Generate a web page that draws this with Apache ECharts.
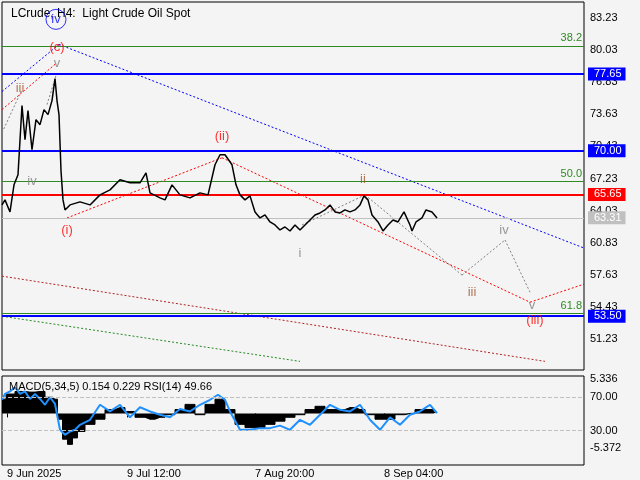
<!DOCTYPE html>
<html><head><meta charset="utf-8">
<script src="https://cdn.jsdelivr.net/npm/echarts@6/dist/echarts.min.js"></script>
<style>body{margin:0;background:#f4f4f4}#c{width:640px;height:480px}</style>
</head><body><div id="c"></div>
<script>
// price path (bar index, price)
var priceX = [0,3,8,12,16,20,23,26,30,34,38,42,46,50,53,55,57,59,61,63,68,78,88,98,108,118,128,138,144,148,158,163,170,178,188,198,206,213,218,223,230,234,238,243,248,253,258,263,268,273,278,283,288,293,298,303,308,313,318,323,328,333,338,343,348,353,358,362,366,370,376,381,386,391,396,402,408,410,414,420,424,430,435];
var priceY = [64.6,65.1,63.9,66.6,67.6,74.5,71.1,74.0,70.1,73.1,72.6,74.1,73.6,75.0,77.2,75.0,73.6,68.0,65.1,64.1,64.6,64.9,64.6,65.6,66.1,67.1,66.8,66.8,67.8,65.8,65.3,65.1,66.6,65.6,65.3,65.8,65.6,68.6,69.6,69.6,68.6,66.6,65.6,65.1,65.5,63.9,63.3,63.6,62.9,62.6,62.1,62.4,62.0,62.6,62.1,62.6,63.1,63.6,63.8,64.1,64.6,63.9,63.8,64.1,63.9,64.1,64.6,65.5,65.1,63.6,62.9,62.0,62.6,63.1,62.9,63.9,62.6,62.0,62.9,63.3,64.1,63.9,63.3];
var macdX = [0,8,18,28,38,48,53,58,63,68,73,78,88,98,108,118,128,138,148,158,168,178,188,198,208,218,228,238,248,258,268,278,288,298,308,318,328,338,348,358,368,378,388,398,408,418,428,435];
var macdV = [2.2,3.0,3.4,3.3,3.4,2.5,2.2,-0.9,-4.0,-4.8,-3.8,-2.8,-1.7,-0.9,0.6,0.9,0.3,-0.6,-0.9,-0.6,-0.2,0.6,1.4,-0.2,1.4,2.2,0.6,-1.7,-2.2,-2.2,-1.7,-1.2,-0.6,-0.2,0.6,1.1,0.6,0.6,0.9,0.6,-0.2,-0.9,-0.9,-0.2,0,0.6,0.6,0.2];
var rsiX = [0,3,8,13,18,23,28,33,38,43,48,53,58,63,68,73,78,88,98,108,118,128,138,148,158,168,178,188,198,208,216,223,228,238,248,258,268,278,288,298,308,318,328,338,348,358,368,378,388,398,408,418,428,435];
var rsiV = [67,74,77,82,74,77,68,74,68,61,70,62,31,25,29,31,37,43,61,53,61,46,58,53,49,46,56,53,61,67,73,67,53,31,31,33,33,36,31,43,37,49,61,55,53,61,43,31,46,37,49,53,61,51];
var dateTicks = [5,125,253,382];
var dateLabels = ['9 Jun 2025','9 Jul 12:00','7 Aug 20:00','8 Sep 04:00'];
var priceTicks = [51.23,54.43,57.63,60.83,64.03,67.23,70.43,73.63,76.83,80.03,83.23];
var levels = [
  {v:77.65,c:'#0000ff',w:2,tag:'77.65'},
  {v:70.00,c:'#0000ff',w:2,tag:'70.00'},
  {v:65.65,c:'#ff0000',w:2,tag:'65.65'},
  {v:63.31,c:'#c0c0c0',w:1,tag:'63.31'},
  {v:53.50,c:'#0000ff',w:2,tag:'53.50'}
];
var fibs = [[80.45,'38.2'],[66.98,'50.0'],[53.75,'61.8']];
// wave/channel lines
var waveLines = [
  [[[0,75.9],[57,80.6]],'#0000ff'],
  [[[57,80.6],[582,60.3]],'#0000ff'],
  [[[0,74.1],[54,78.7]],'#ff0000'],
  [[[65,63.3],[220,69.3]],'#ff0000'],
  [[[220,69.3],[528,54.9]],'#ff0000'],
  [[[528,54.9],[582,56.7]],'#ff0000'],
  [[[0,71.8],[20,76.1]],'#808080'],
  [[[45,74.6],[54,77.5]],'#808080'],
  [[[300,62.6],[363,65.6]],'#808080'],
  [[[363,65.6],[460,57.6]],'#808080'],
  [[[460,57.6],[503,61.1]],'#808080'],
  [[[503,61.1],[528,55.9]],'#808080'],
  [[[0,57.5],[543,49.0]],'#b22222'],
  [[[0,53.5],[298,49.0]],'#228b22']
];
var waveLabels = [
  [55,80.3,'(c)','#ff0000'],[55,78.7,'v','#808080'],
  [18,76.2,'iii','#a0522d'],[30,66.9,'iv','#808080'],[65,62.1,'(i)','#ff0000'],
  [220,71.4,'(ii)','#ff0000'],[361,67.1,'ii','#a0522d'],[298,59.8,'i','#808080'],
  [470,55.9,'iii','#a0522d'],[502,62.1,'iv','#808080'],[530,54.6,'v','#808080'],[533,53.1,'(iii)','#ff0000']
];

var zip = function(a,b){ return a.map(function(x,i){ return [x,b[i]]; }); };
var font = 'Liberation Sans';
var chart = echarts.init(document.getElementById('c'));
var series = [];
series.push({type:'line',xAxisIndex:0,yAxisIndex:0,data:zip(priceX,priceY),symbol:'none',lineStyle:{color:'#000',width:1.5},z:5,
  markLine:{silent:true,symbol:'none',animation:false,data:
    levels.map(function(l){ return {yAxis:l.v,lineStyle:{color:l.c,width:l.w,type:'solid'},
      label:{position:'end',formatter:l.tag,color:'#fff',backgroundColor:l.c,padding:[1,4,1,6],fontSize:11,fontFamily:font,distance:4}}; })
    .concat(fibs.map(function(f){ return {yAxis:f[0],lineStyle:{color:'#2e8b22',width:1,type:'solid'},
      label:{position:'insideEndTop',formatter:f[1],color:'#2e8b22',fontSize:11,fontFamily:font,distance:2}}; }))
  }});
waveLines.forEach(function(w){
  series.push({type:'line',xAxisIndex:0,yAxisIndex:0,data:w[0],symbol:'none',silent:true,
    lineStyle:{color:w[1],width:1,type:[2,2]},z:3});
});
series.push({type:'scatter',xAxisIndex:0,yAxisIndex:0,symbolSize:0,z:6,clip:false,
  data:waveLabels.map(function(d){ return {value:[d[0],d[1]],label:{show:true,position:'inside',formatter:d[2],color:d[3],fontSize:13,fontFamily:font}}; })});
// circled (iv)
series.push({type:'scatter',xAxisIndex:0,yAxisIndex:0,z:6,clip:false,symbol:'circle',symbolSize:20,
  itemStyle:{color:'rgba(0,0,0,0)',borderColor:'#0000ff',borderWidth:1},
  data:[{value:[54,83.1],label:{show:true,position:'inside',formatter:'iv',color:'#0000ff',fontSize:13,fontFamily:font}}]});
series.push({type:'line',xAxisIndex:1,yAxisIndex:1,data:zip(macdX,macdV),symbol:'none',step:'middle',
  lineStyle:{color:'#000',width:1},areaStyle:{color:'#000',opacity:1,origin:0}});
series.push({type:'line',xAxisIndex:1,yAxisIndex:2,data:zip(rsiX,rsiV),symbol:'none',lineStyle:{color:'#1e90ff',width:2},
  markLine:{silent:true,symbol:'none',animation:false,label:{show:false},lineStyle:{color:'#c0c0c0',type:'dashed',width:1},data:[{yAxis:70},{yAxis:30}]}});

chart.setOption({
  backgroundColor:'#f4f4f4',
  animation:false,
  textStyle:{fontFamily:font},
  title:[
    {text:'LCrude, H4:  Light Crude Oil Spot',left:6,top:3,textStyle:{fontSize:12,fontWeight:'normal',color:'#000'}},
    {text:'MACD(5,34,5) 0.154 0.229 RSI(14) 49.66',left:4,top:376,textStyle:{fontSize:11,fontWeight:'normal',color:'#000'}}
  ],
  grid:[
    {left:2,right:56,top:2,height:368,show:true,borderColor:'#000',borderWidth:1},
    {left:2,right:56,top:376,height:89,show:true,borderColor:'#000',borderWidth:1}
  ],
  xAxis:[
    {type:'value',gridIndex:0,min:0,max:582,show:false},
    {type:'value',gridIndex:1,min:0,max:582,position:'bottom',axisLine:{show:false},splitLine:{show:false},
      axisTick:{show:true,length:4,customValues:dateTicks,lineStyle:{color:'#000'}},
      axisLabel:{customValues:dateTicks,fontSize:11,color:'#000',margin:3,align:'left',
        formatter:function(v){ return dateLabels[dateTicks.indexOf(v)] || ''; }}}
  ],
  yAxis:[
    {type:'value',gridIndex:0,position:'right',min:48.14,max:84.83,splitLine:{show:false},axisLine:{show:false},
      axisTick:{show:false},
      axisLabel:{customValues:priceTicks,fontSize:11,color:'#000',margin:6,formatter:function(v){ return v.toFixed(2); }}},
    {type:'value',gridIndex:1,position:'right',min:-8.0,max:5.8,splitLine:{show:false},axisLine:{show:false},
      axisTick:{show:false},
      axisLabel:{customValues:[5.336,-5.372],fontSize:11,color:'#000',margin:6,formatter:function(v){ return v.toFixed(3); }}},
    {type:'value',gridIndex:1,position:'right',min:-11.2,max:95.5,splitLine:{show:false},axisLine:{show:false},
      axisTick:{show:false},
      axisLabel:{customValues:[70,30],fontSize:11,color:'#000',margin:6,formatter:function(v){ return v.toFixed(2); }}}
  ],
  series:series
});
</script></body></html>
